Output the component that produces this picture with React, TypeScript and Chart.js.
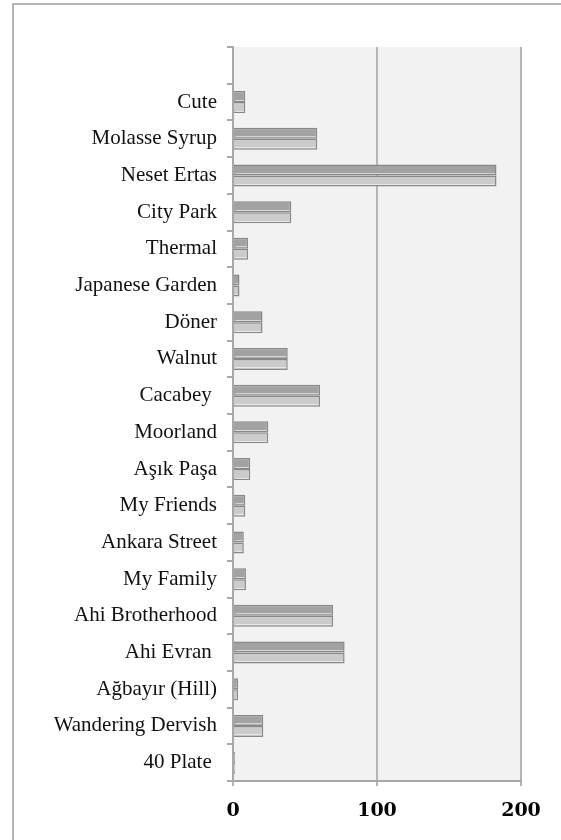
import React, { useEffect, useRef } from "react";
import { Chart, registerables } from "chart.js";

Chart.register(...registerables);

const categories: string[] = [
  "",
  "Cute",
  "Molasse Syrup",
  "Neset Ertas",
  "City Park",
  "Thermal",
  "Japanese Garden",
  "Döner",
  "Walnut",
  "Cacabey ",
  "Moorland",
  "Aşık Paşa",
  "My Friends",
  "Ankara Street",
  "My Family",
  "Ahi Brotherhood",
  "Ahi Evran ",
  "Ağbayır (Hill)",
  "Wandering Dervish",
  "40 Plate ",
];

const seriesA: (number | null)[] = [
  null, 8.5, 58.5, 183, 40.5, 10.5, 4.5, 20.5, 38, 60.5, 24.5, 12, 8.5, 7.5, 9, 69.5, 77.5, 3.5, 21, 1.5,
];
const seriesB: (number | null)[] = [
  null, 8.5, 58.5, 183, 40.5, 10.5, 4.5, 20.5, 38, 60.5, 24.5, 12, 8.5, 7.5, 9, 69.5, 77.5, 3.5, 21, 1.5,
];

const xTicks: number[] = [0, 100, 200];

const plotBg = {
  id: "plotBg",
  beforeDraw(chart: any) {
    const { ctx, chartArea } = chart;
    ctx.save();
    ctx.fillStyle = "#f2f2f2";
    ctx.fillRect(chartArea.left, chartArea.top, chartArea.right - chartArea.left, chartArea.bottom - chartArea.top);
    ctx.restore();
  },
};

const barHighlight = {
  id: "barHighlight",
  afterDatasetsDraw(chart: any) {
    const { ctx } = chart;
    ctx.save();
    ctx.strokeStyle = "rgba(255,255,255,0.55)";
    ctx.lineWidth = 1;
    chart.data.datasets.forEach((_: any, i: number) => {
      const meta = chart.getDatasetMeta(i);
      meta.data.forEach((el: any) => {
        const p = el.getProps(["x", "y", "base", "height"], true);
        if (p.x == null || isNaN(p.x) || p.x - p.base < 4) return;
        const yy = Math.round(p.y + p.height / 2 - 2.5) + 0.5;
        ctx.beginPath();
        ctx.moveTo(p.base + 1.5, yy);
        ctx.lineTo(p.x - 1.5, yy);
        ctx.stroke();
      });
    });
    ctx.restore();
  },
};

export default function App() {
  const ref = useRef<HTMLCanvasElement | null>(null);

  useEffect(() => {
    if (!ref.current) return;
    const chart = new Chart(ref.current, {
      type: "bar",
      data: {
        labels: categories,
        datasets: [
          {
            label: "A",
            data: seriesA,
            backgroundColor: "#a2a2a2",
            borderColor: "#888888",
            borderWidth: 1.5,
            categoryPercentage: 0.6,
            barPercentage: 1.0,
          },
          {
            label: "B",
            data: seriesB,
            backgroundColor: "#cbcbcb",
            borderColor: "#888888",
            borderWidth: 1.5,
            categoryPercentage: 0.6,
            barPercentage: 1.0,
          },
        ],
      },
      options: {
        indexAxis: "y",
        animation: false,
        responsive: false,
        maintainAspectRatio: false,
        layout: { padding: { top: 47, right: 40, left: 0, bottom: 0 } },
        plugins: { legend: { display: false }, tooltip: { enabled: false } },
        scales: {
          y: {
            type: "category",
            afterFit: (s: any) => {
              s.width = 233;
            },
            border: { display: true, color: "#a8a8a8", width: 2 },
            grid: { display: true, drawOnChartArea: false, drawTicks: true, tickLength: 6, color: "#a8a8a8", lineWidth: 2, offset: true },
            ticks: {
              color: "#111",
              padding: 10,
              autoSkip: false,
              font: { family: "'Liberation Serif', 'Times New Roman', serif", size: 21 },
            },
          },
          x: {
            type: "linear",
            min: 0,
            max: 200,
            afterBuildTicks: (s: any) => {
              s.ticks = xTicks.map((v) => ({ value: v }));
            },
            afterFit: (s: any) => {
              s.height = 59;
            },
            border: { display: true, color: "#a8a8a8", width: 2 },
            grid: { display: true, drawOnChartArea: true, drawTicks: true, tickLength: 5, color: "#b4b4b4", lineWidth: 2 },
            ticks: {
              color: "#000",
              padding: 14,
              font: { family: "'DejaVu Serif', serif", size: 19, weight: "bold" },
            },
          },
        },
      },
      plugins: [plotBg, barHighlight],
    });
    return () => chart.destroy();
  }, []);

  return (
    <div style={{ position: "fixed", left: 0, top: 0, width: 561, height: 840, overflow: "hidden", background: "#fff" }}>
      <div
        style={{
          position: "absolute",
          left: 12,
          top: 3,
          width: 700,
          height: 1000,
          borderLeft: "2px solid #b4b4b4",
          borderTop: "2px solid #b4b4b4",
        }}
      />
      <canvas ref={ref} width={561} height={840} style={{ position: "absolute", left: 0, top: 0, display: "block" }} />
    </div>
  );
}
